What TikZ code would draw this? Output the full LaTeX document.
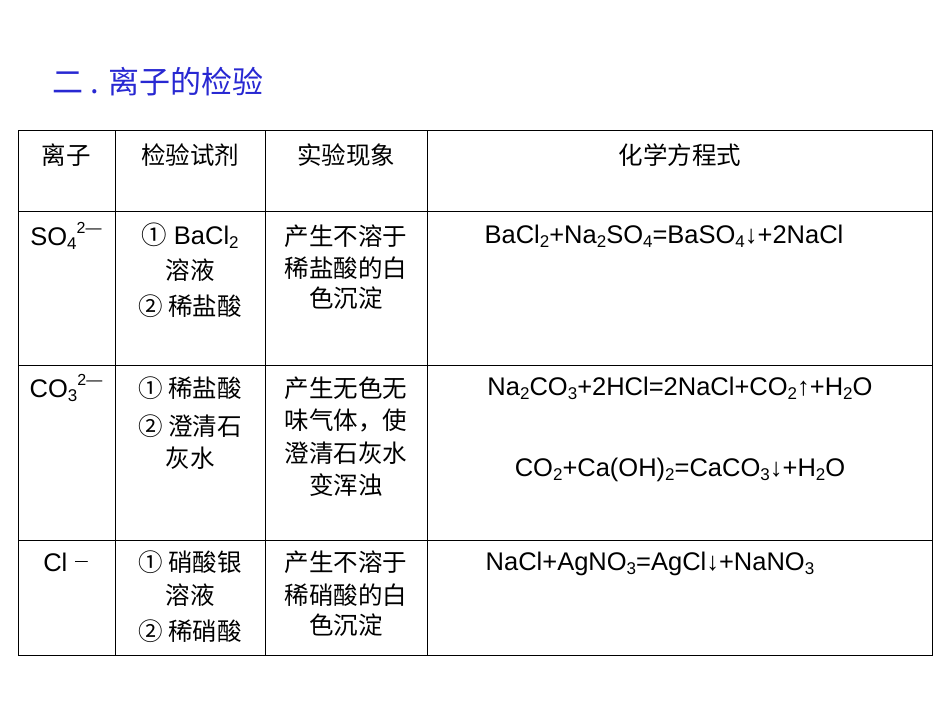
\documentclass[tikz,border=0pt]{standalone}
\usepackage{fontspec}
\setmainfont{Liberation Sans}
\newfontfamily\cjk{Noto Sans CJK SC}
\newcommand{\dn}[1]{\raisebox{-0.3ex}{\fontsize{17}{17}\selectfont #1}}
\newcommand{\up}[1]{\raisebox{0.9ex}{\fontsize{16}{16}\selectfont #1}}
\begin{document}
\begin{tikzpicture}[x=1pt,y=-1pt,
  t/.style={inner sep=0pt,anchor=center,font=\fontsize{24.5}{28}\selectfont},
  e/.style={t,font=\fontsize{25.5}{28}\selectfont},
  ln/.style={line width=0.8pt}]
\useasboundingbox (0,0) rectangle (950,713);
\node[t,anchor=west,text={rgb,255:red,40;green,40;blue,210},font=\fontsize{31}{34}\selectfont\cjk] (title) at (52,82) {二 . 离子的检验};
\draw[ln] (18,130) rectangle (932,655);
\foreach \y in {211,365,540} \draw[ln] (18,\y) -- (932,\y);
\foreach \x in {115,265,427} \draw[ln] (\x,130) -- (\x,655);
% header
\node[t] (h1) at (66,155) {\cjk 离子};
\node[t] (h2) at (190,155) {\cjk 检验试剂};
\node[t] (h3) at (346,155) {\cjk 实验现象};
\node[t] (h4) at (680,155) {\cjk 化学方程式};
% row 1
\node[e] (a1) at (66,236) {SO\dn{4}\up{2—}};
\node[e] (b1) at (190,236) {{\cjk ①} BaCl\dn{2}};
\node[t] (b2) at (190,270) {\cjk 溶液};
\node[t] (b3) at (190,306) {\cjk ② 稀盐酸};
\node[t] (c1) at (346,236) {\cjk 产生不溶于};
\node[t] (c2) at (346,268) {\cjk 稀盐酸的白};
\node[t] (c3) at (346,298) {\cjk 色沉淀};
\node[e] (d1) at (664,236) {BaCl\dn{2}+Na\dn{2}SO\dn{4}=BaSO\dn{4}↓+2NaCl};
% row 2
\node[e] (a2) at (66,388) {CO\dn{3}\up{2—}};
\node[t] (e1) at (190,388) {\cjk ① 稀盐酸};
\node[t] (e2) at (190,426) {\cjk ② 澄清石};
\node[t] (e3) at (190,458) {\cjk 灰水};
\node[t] (f1) at (346,388) {\cjk 产生无色无};
\node[t] (f2) at (346,420) {\cjk 味气体，使};
\node[t] (f3) at (346,453) {\cjk 澄清石灰水};
\node[t] (f4) at (346,485) {\cjk 变浑浊};
\node[e] (g1) at (680,388) {Na\dn{2}CO\dn{3}+2HCl=2NaCl+CO\dn{2}↑+H\dn{2}O};
\node[e] (g2) at (680,470) {CO\dn{2}+Ca(OH)\dn{2}=CaCO\dn{3}↓+H\dn{2}O};
% row 3
\node[e] (a3) at (66,562) {Cl {\cjk\fontsize{16}{16}\selectfont\raisebox{0.5ex}{—}}};
\node[t] (i1) at (190,562) {\cjk ① 硝酸银};
\node[t] (i2) at (190,595) {\cjk 溶液};
\node[t] (i3) at (190,631) {\cjk ② 稀硝酸};
\node[t] (j1) at (346,562) {\cjk 产生不溶于};
\node[t] (j2) at (346,595) {\cjk 稀硝酸的白};
\node[t] (j3) at (346,625) {\cjk 色沉淀};
\node[e] (k1) at (650,564) {NaCl+AgNO\dn{3}=AgCl↓+NaNO\dn{3}};
\end{tikzpicture}
\end{document}
